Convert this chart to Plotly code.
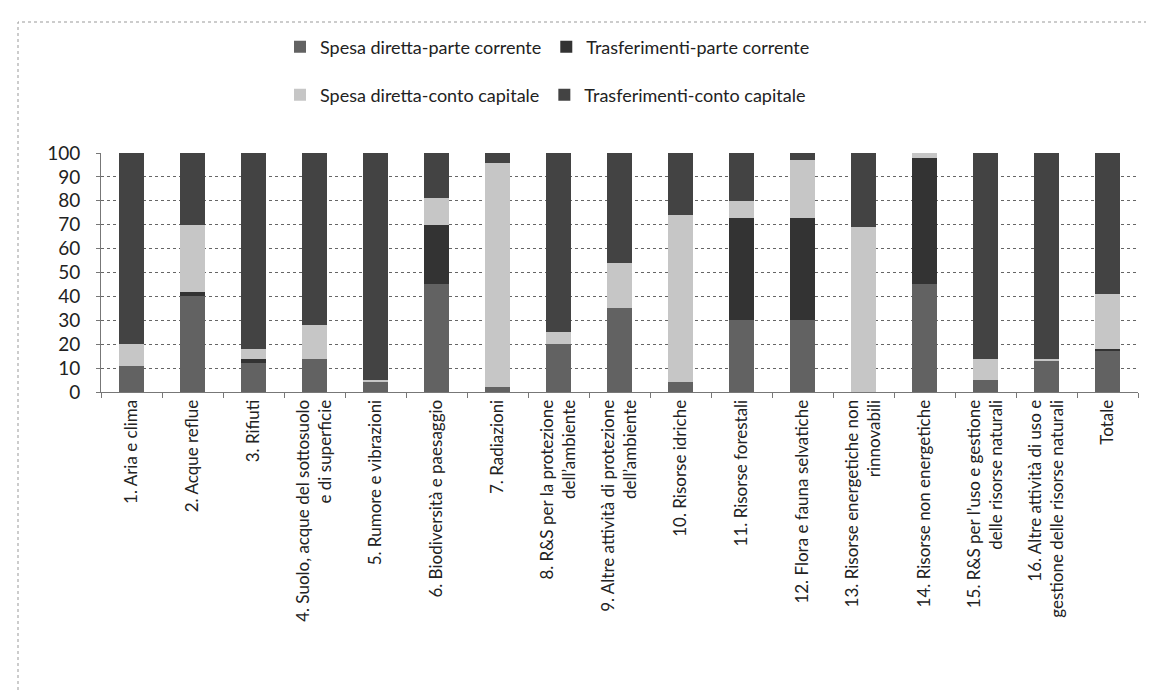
import plotly.graph_objects as go

categories = [
    "1. Aria e clima",
    "2. Acque reflue",
    "3. Rifiuti",
    "4. Suolo, acque del sottosuolo<br>e di superficie",
    "5. Rumore e vibrazioni",
    "6. Biodiversità e paesaggio",
    "7. Radiazioni",
    "8. R&S per la protezione<br>dell’ambiente",
    "9. Altre attività di protezione<br>dell’ambiente",
    "10. Risorse idriche",
    "11. Risorse forestali",
    "12. Flora e fauna selvatiche",
    "13. Risorse energetiche non<br>rinnovabili",
    "14. Risorse non energetiche",
    "15. R&S per l’uso e gestione<br>delle risorse naturali",
    "16. Altre attività di uso e<br>gestione delle risorse naturali",
    "Totale",
]

spesa_diretta_corrente = [11, 40, 12, 14, 4, 45, 2, 20, 35, 4, 30, 30, 0, 45, 5, 13, 17]
trasferimenti_corrente = [0, 2, 2, 0, 0, 25, 0, 0, 0, 0, 43, 43, 0, 53, 0, 0, 1]
spesa_diretta_capitale = [9, 28, 4, 14, 1, 11, 94, 5, 19, 70, 7, 24, 69, 2, 9, 1, 23]
trasferimenti_capitale = [80, 30, 82, 72, 95, 19, 4, 75, 46, 26, 20, 3, 31, 0, 86, 86, 59]

series = [
    ("Spesa diretta-parte corrente", spesa_diretta_corrente, "#626262", "legend"),
    ("Trasferimenti-parte corrente", trasferimenti_corrente, "#333333", "legend"),
    ("Spesa diretta-conto capitale", spesa_diretta_capitale, "#c6c6c6", "legend2"),
    ("Trasferimenti-conto capitale", trasferimenti_capitale, "#434343", "legend2"),
]

W, H = 1154, 691
L, R, T, B = 93, 24, 145, 307
pw, ph = W - L - R, H - T - B

def px(x):
    return (x - L) / pw

def py(y):
    return (H - B - y) / ph

fig = go.Figure()
for name, vals, color, lg in series:
    fig.add_trace(go.Bar(
        x=categories, y=vals, name=name, marker_color=color,
        marker_line_width=0, legend=lg,
    ))

font = "Lato, 'Open Sans', sans-serif"
legend_common = dict(
    orientation="h", xanchor="left", yanchor="middle", traceorder="normal",
    font=dict(size=18, family=font, color="#222"), itemwidth=30,
    bgcolor="rgba(0,0,0,0)",
)
fig.update_layout(
    width=W, height=H,
    margin=dict(l=L, r=R, t=T, b=B),
    barmode="stack",
    bargap=0.6,
    plot_bgcolor="white",
    paper_bgcolor="white",
    font=dict(family=font, color="#222"),
    legend=dict(x=px(272), y=py(39), **legend_common),
    legend2=dict(x=px(272), y=py(87), **legend_common),
    xaxis=dict(
        tickangle=-90,
        tickfont=dict(size=17, family=font, color="#222"),
        showline=True, linecolor="#777", linewidth=1,
        ticks="outside", tickson="boundaries", ticklen=5, tickcolor="#777",
        showgrid=False,
    ),
    yaxis=dict(
        range=[0, 100], dtick=10,
        tickfont=dict(size=19, family=font, color="#222"),
        showgrid=True, gridcolor="#666", griddash="dot", gridwidth=1,
        showline=True, linecolor="#777", linewidth=1,
        ticks="outside", ticklen=4, tickcolor="#777",
        ticklabelstandoff=12,
        zeroline=False,
    ),
    shapes=[dict(
        type="rect", xref="paper", yref="paper",
        x0=px(10), x1=px(1149), y0=py(689), y1=py(14),
        line=dict(color="#999", width=1, dash="dot"),
        fillcolor="rgba(0,0,0,0)", layer="below",
    )],
)

fig.write_html("out.html")
